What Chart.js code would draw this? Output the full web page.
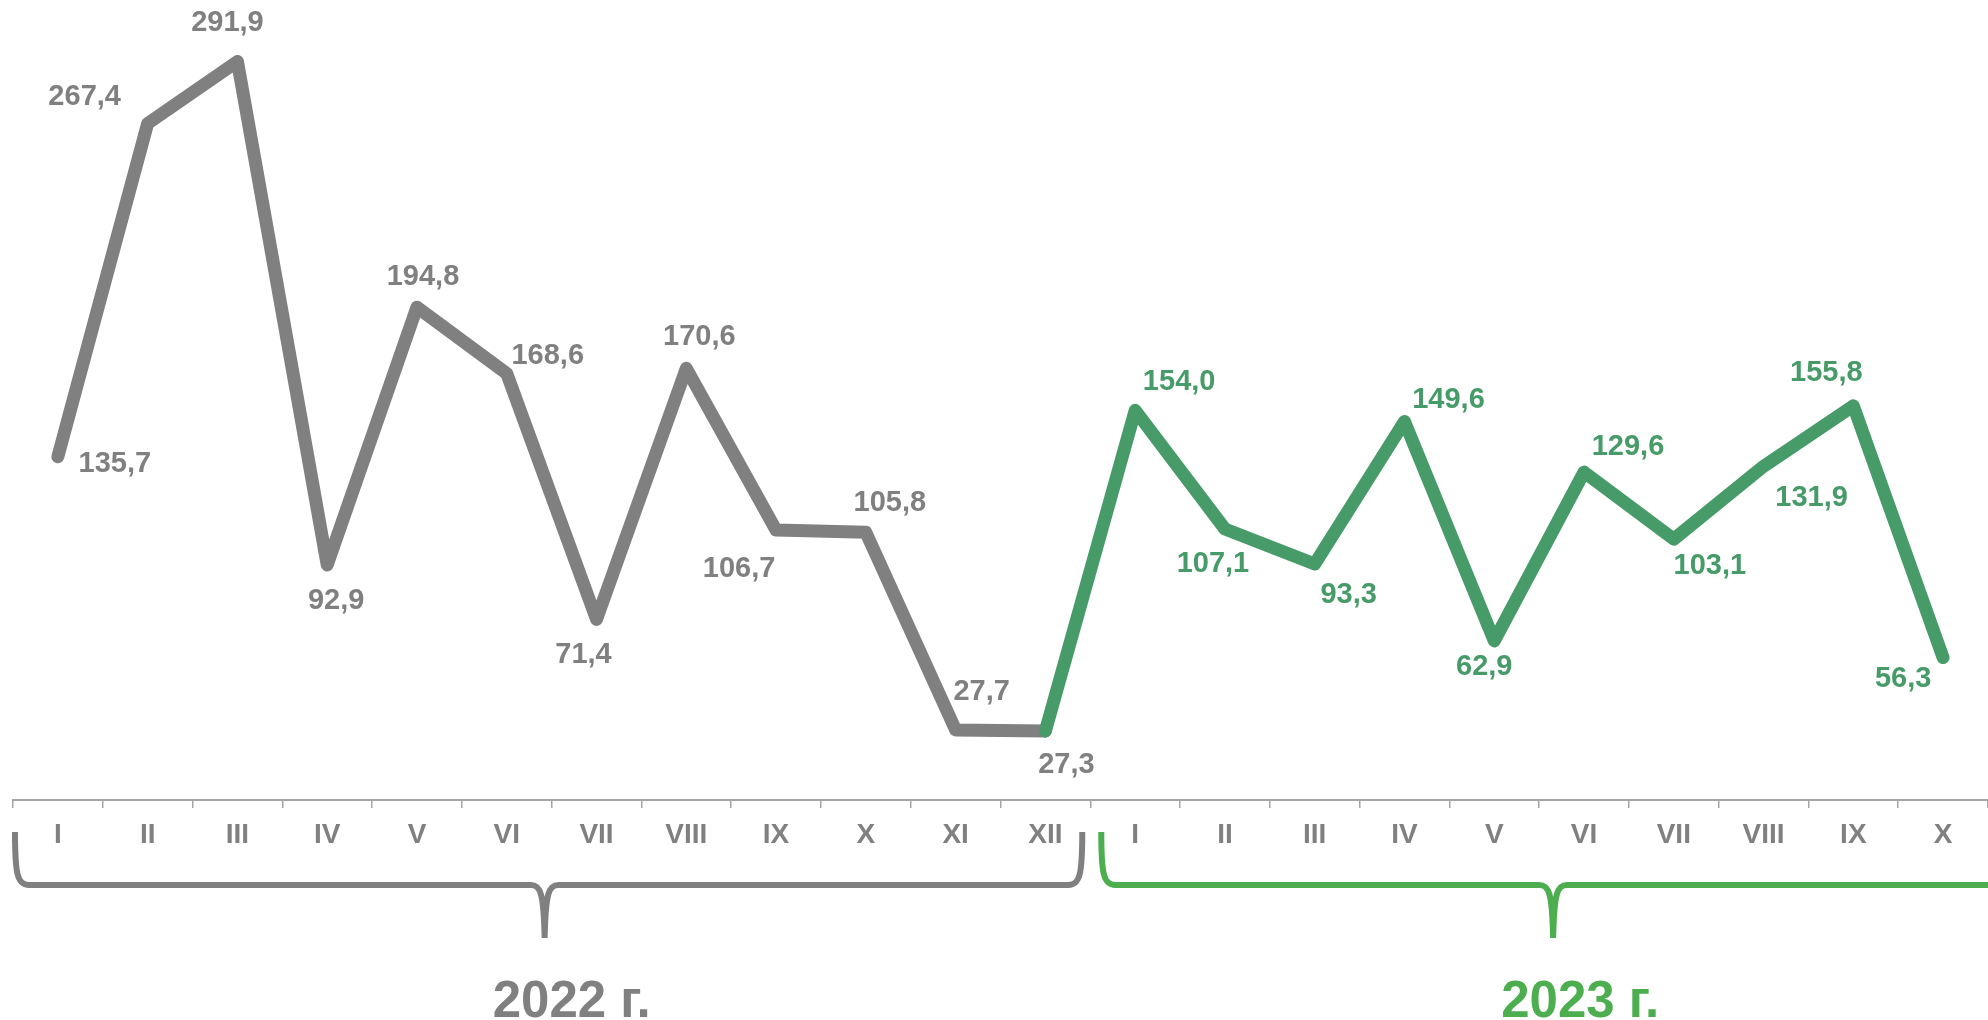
<!DOCTYPE html>
<html lang="ru">
<head>
<meta charset="utf-8">
<title>2022–2023</title>
<script src="https://cdn.jsdelivr.net/npm/chart.js@4.4.1/dist/chart.umd.min.js"></script>
<style>
  html, body { margin: 0; padding: 0; background: #ffffff; }
  #chart { display: block; }
</style>
</head>
<body>
<canvas id="chart" width="1988" height="1020"></canvas>
<script>
/* -----------------------------------------------------------------
   ДАННЫЕ
   ----------------------------------------------------------------- */
const months2022 = ["I", "II", "III", "IV", "V", "VI", "VII", "VIII", "IX", "X", "XI", "XII"];
const months2023 = ["I", "II", "III", "IV", "V", "VI", "VII", "VIII", "IX", "X"];
const values2022 = [135.7, 267.4, 291.9, 92.9, 194.8, 168.6, 71.4, 170.6, 106.7, 105.8, 27.7, 27.3];
const values2023 = [154.0, 107.1, 93.3, 149.6, 62.9, 129.6, 103.1, 131.9, 155.8, 56.3];
const years = ["2022 г.", "2023 г."];

// смещения подписей значений относительно точки (px)
const labelShift2022 = [[57, 7], [-63, -26], [-10, -38], [9, 36], [6, -30], [41, -17], [-13, 36], [13, -31], [-37, 39], [24, -29], [26, -38], [21, 34]];
const labelShift2023 = [[44, -28], [-12, 35], [34, 31], [44, -22], [-10, 26], [44, -25], [36, 27], [48, 32], [-27, -33], [-40, 21]];

const GRAY = "#808080";
const GREEN_LINE = "#469b68";
const GREEN_BRACE = "#4cae4f";
const FONT = "'Liberation Sans', Arial, sans-serif";

const allLabels = [...months2022, ...months2023];
const grayData = [...values2022, ...months2023.map(() => null)];
// зелёная линия начинается из последней точки 2022 г.
const greenData = [...months2022.slice(1).map(() => null), values2022[values2022.length - 1], ...values2023];

function fmt(v) {
  return v.toFixed(1).replace(".", ",");
}

/* -----------------------------------------------------------------
   ПОДПИСИ ЗНАЧЕНИЙ
   ----------------------------------------------------------------- */
const valueLabels = {
  id: "valueLabels",
  afterDatasetsDraw(chart) {
    const ctx = chart.ctx;
    ctx.save();
    ctx.font = "bold 29px " + FONT;
    ctx.textAlign = "center";
    ctx.textBaseline = "middle";

    const grayMeta = chart.getDatasetMeta(0);
    values2022.forEach((v, i) => {
      const p = grayMeta.data[i];
      ctx.fillStyle = GRAY;
      ctx.fillText(fmt(v), p.x + labelShift2022[i][0], p.y + labelShift2022[i][1]);
    });

    const greenMeta = chart.getDatasetMeta(1);
    values2023.forEach((v, i) => {
      const p = greenMeta.data[months2022.length + i];
      ctx.fillStyle = GREEN_LINE;
      ctx.fillText(fmt(v), p.x + labelShift2023[i][0], p.y + labelShift2023[i][1]);
    });
    ctx.restore();
  },
};

/* -----------------------------------------------------------------
   ФИГУРНЫЕ СКОБКИ И ГОДЫ
   ----------------------------------------------------------------- */
function drawBrace(ctx, x0, x1, tip, color) {
  const top = 832, mid = 885, bot = 938;
  ctx.beginPath();
  ctx.moveTo(x0, top);
  ctx.bezierCurveTo(x0, mid - 12, x0 + 2, mid, x0 + 14, mid);
  ctx.lineTo(tip - 14, mid);
  ctx.bezierCurveTo(tip - 4, mid, tip - 1, mid + 8, tip, bot);
  ctx.moveTo(tip, bot);
  ctx.bezierCurveTo(tip + 1, mid + 8, tip + 4, mid, tip + 14, mid);
  ctx.lineTo(x1 - 14, mid);
  ctx.bezierCurveTo(x1 - 2, mid, x1, mid - 12, x1, top);
  ctx.strokeStyle = color;
  ctx.lineWidth = 6;
  ctx.lineJoin = "round";
  ctx.stroke();
}

const yearBraces = {
  id: "yearBraces",
  afterDraw(chart) {
    const ctx = chart.ctx;
    const x = chart.scales.x;
    const step = x.getPixelForValue(1) - x.getPixelForValue(0);
    const start22 = x.getPixelForValue(0) - step / 2;
    const end22 = x.getPixelForValue(months2022.length - 1) + step / 2;
    const end23 = end22 + step * months2022.length;

    const groups = [
      { x0: start22 + 2, x1: end22 - 8, tip: (start22 + end22) / 2 - 7, color: GRAY, text: years[0] },
      { x0: end22 + 11, x1: end23, tip: (end22 + chart.chartArea.right) / 2 + 14, color: GREEN_BRACE, text: years[1] },
    ];

    ctx.save();
    groups.forEach((g) => {
      drawBrace(ctx, g.x0, g.x1, g.tip, g.color);
      ctx.font = "bold 51px " + FONT;
      ctx.fillStyle = g.color;
      ctx.textAlign = "center";
      ctx.textBaseline = "alphabetic";
      ctx.fillText(g.text, g.tip + 27, 1017);
    });
    ctx.restore();
  },
};

/* -----------------------------------------------------------------
   ГРАФИК
   ----------------------------------------------------------------- */
new Chart(document.getElementById("chart"), {
  type: "line",
  data: {
    labels: allLabels,
    datasets: [
      {
        data: grayData,
        borderColor: GRAY,
        borderWidth: 13,
        borderCapStyle: "round",
        borderJoinStyle: "round",
        pointRadius: 0,
        order: 2,
      },
      {
        data: greenData,
        borderColor: GREEN_LINE,
        borderWidth: 13,
        borderCapStyle: "round",
        borderJoinStyle: "round",
        pointRadius: 0,
        order: 1,
      },
    ],
  },
  options: {
    responsive: false,
    animation: false,
    devicePixelRatio: 1,
    layout: { padding: { top: 41, left: 13, right: 0, bottom: 0 } },
    plugins: { legend: { display: false }, tooltip: { enabled: false } },
    scales: {
      x: {
        offset: true,
        grid: { offset: true, drawOnChartArea: false, drawTicks: true, tickLength: 8, color: "#a6a6a6", lineWidth: 1.5 },
        border: { display: true, color: "#a6a6a6", width: 2 },
        ticks: {
          color: GRAY,
          font: { family: FONT, size: 28, weight: "bold" },
          padding: 10,
          maxRotation: 0,
          autoSkip: false,
        },
        afterFit(scale) { scale.height = 220; },
      },
      y: { display: false, min: 0, max: 300 },
    },
  },
  plugins: [valueLabels, yearBraces],
});
</script>
</body>
</html>
